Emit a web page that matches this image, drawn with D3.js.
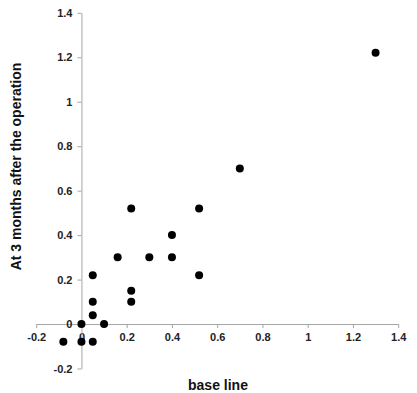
<!DOCTYPE html>
<html>
<head>
<meta charset="utf-8">
<script src="https://cdn.jsdelivr.net/npm/d3@7"></script>
<style>
  html, body { margin: 0; padding: 0; background: #fff; }
  svg { display: block; font-family: 'Liberation Sans', Arial, sans-serif; }
  .axis path, .axis line { stroke: #a6a6a6; }
  .axis text { font-size: 11px; font-weight: bold; fill: #222; }
  .title { font-size: 14px; font-weight: bold; fill: #111; }
</style>
</head>
<body>
<div id="chart"></div>
<script>
// values
const baseLine = [1.3, 0.7, 0.22, 0.52, 0.4, 0.16, 0.3, 0.4, 0.05, 0.52, 0.22, 0.05, 0.22, 0.05, 0, 0.1, -0.08, 0, 0.05];
const after3m  = [1.22, 0.7, 0.52, 0.52, 0.4, 0.3, 0.3, 0.3, 0.22, 0.22, 0.15, 0.1, 0.1, 0.04, 0, 0, -0.08, -0.08, -0.08];
const tickVals = [-0.2, 0, 0.2, 0.4, 0.6, 0.8, 1, 1.2, 1.4];

const width = 417, height = 393;

const svg = d3.select('#chart').append('svg')
  .attr('width', width)
  .attr('height', height);

const x = d3.scaleLinear().domain([-0.2, 1.4]).range([36.2, 398.2]);
const y = d3.scaleLinear().domain([-0.2, 1.4]).range([368.5, 12.8]);

const fmt = d => String(+d.toFixed(1));

// x axis sits on y = 0
svg.append('g')
  .attr('class', 'axis x')
  .attr('transform', `translate(0,${y(0)})`)
  .call(d3.axisBottom(x).tickValues(tickVals).tickFormat(fmt).tickSize(4).tickSizeOuter(0).tickPadding(5));

// y axis sits on x = 0
svg.append('g')
  .attr('class', 'axis y')
  .attr('transform', `translate(${x(0)},0)`)
  .call(d3.axisLeft(y).tickValues(tickVals).tickFormat(fmt).tickSize(4).tickSizeOuter(0).tickPadding(5));

// points
const pts = baseLine.map((b, i) => ({ b, a: after3m[i] }));
svg.append('g').selectAll('circle')
  .data(pts)
  .enter()
  .append('circle')
  .attr('cx', d => x(d.b))
  .attr('cy', d => y(d.a))
  .attr('r', 4)
  .attr('fill', '#000');

// axis titles
svg.append('text')
  .attr('class', 'title')
  .attr('x', 218)
  .attr('y', 390)
  .attr('text-anchor', 'middle')
  .text('base line');

svg.append('text')
  .attr('class', 'title')
  .attr('transform', 'translate(21,166.5) rotate(-90)')
  .attr('text-anchor', 'middle')
  .text('At 3 months after the operation');
</script>
</body>
</html>
